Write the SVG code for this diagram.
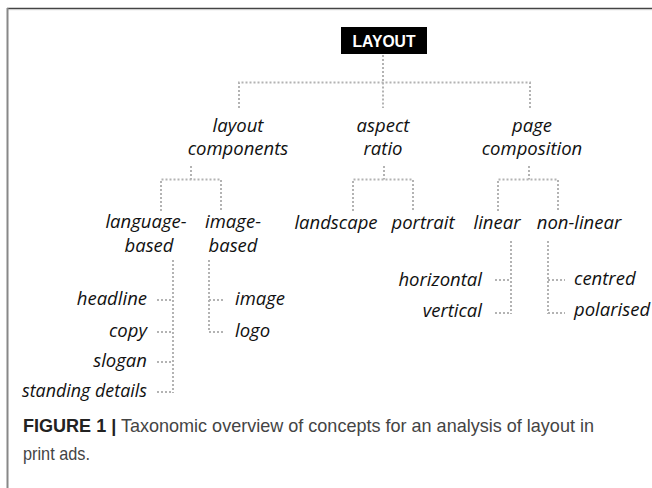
<svg xmlns="http://www.w3.org/2000/svg" width="652" height="488" viewBox="0 0 652 488">
  <style>
    .lbl { font-family: "Open Sans", "Noto Sans", "DejaVu Sans", sans-serif; font-style: italic; font-size: 18.5px; fill: #111; }
    .mid { text-anchor: middle; }
    .end { text-anchor: end; }
    .dot { fill: none; stroke: #b3b3b3; stroke-width: 2; stroke-dasharray: 2 2; }
    .cap { font-family: "Liberation Sans", Arial, sans-serif; font-size: 19px; fill: #444; }
  </style>
  <rect width="652" height="488" fill="#fff"/>

  <!-- frame -->
  <line x1="7" y1="8.5" x2="652" y2="8.5" stroke="#444" stroke-width="1.5"/>
  <line x1="7" y1="9.7" x2="652" y2="9.7" stroke="#ccc" stroke-width="1"/>
  <line x1="7.5" y1="8" x2="7.5" y2="488" stroke="#888" stroke-width="2"/>

  <!-- connectors -->
  <g id="connectors" class="dot">
    <path d="M383 55 V82.5 M239 108 V82.5 H530 V108 M383 82.5 V108"/>
    <path d="M191 166 V179.5 M161 211 V179.5 H221 V211"/>
    <path d="M384 166 V179.5 M353 211 V179.5 H413 V211"/>
    <path d="M529 166 V179.5 M498 211 V179.5 H558 V211"/>
    <path d="M173 260 V393 M157 300 H173 M157 332 H173 M157 362 H173 M157 392 H173"/>
    <path d="M209 260 V332 M209 300 H224 M209 332 H224"/>
    <path d="M511 241 V314 M495 280 H511 M495 313 H511"/>
    <path d="M548 241 V314 M548 280 H565 M548 313 H565"/>
  </g>

  <g id="layout">
    <rect x="341" y="27" width="86" height="27" fill="#000"/>
    <text x="384" y="47" text-anchor="middle" font-family="Liberation Sans, Arial, sans-serif" font-weight="bold" font-size="16.5" fill="#fff" textLength="63" lengthAdjust="spacingAndGlyphs">LAYOUT</text>
  </g>

  <g id="layout-components">
    <text class="lbl mid" x="238" y="132">layout</text>
    <text class="lbl mid" x="238" y="155">components</text>
  </g>
  <g id="aspect-ratio">
    <text class="lbl mid" x="383" y="132">aspect</text>
    <text class="lbl mid" x="383" y="155">ratio</text>
  </g>
  <g id="page-composition">
    <text class="lbl mid" x="532" y="132">page</text>
    <text class="lbl mid" x="532" y="155">composition</text>
  </g>

  <g id="language-based">
    <text class="lbl mid" x="146" y="228">language-</text>
    <text class="lbl mid" x="149" y="252">based</text>
  </g>
  <g id="image-based">
    <text class="lbl mid" x="233" y="228">image-</text>
    <text class="lbl mid" x="233" y="252">based</text>
  </g>
  <g id="landscape"><text class="lbl mid" x="336" y="229">landscape</text></g>
  <g id="portrait"><text class="lbl mid" x="423" y="229">portrait</text></g>
  <g id="linear"><text class="lbl mid" x="497" y="229">linear</text></g>
  <g id="non-linear"><text class="lbl mid" x="579" y="229">non-linear</text></g>

  <g id="headline"><text class="lbl end" x="147" y="305">headline</text></g>
  <g id="copy"><text class="lbl end" x="147" y="337">copy</text></g>
  <g id="slogan"><text class="lbl end" x="147" y="367">slogan</text></g>
  <g id="standing-details"><text class="lbl end" x="147" y="397" textLength="125" lengthAdjust="spacingAndGlyphs">standing details</text></g>

  <g id="image"><text class="lbl" x="235" y="305">image</text></g>
  <g id="logo"><text class="lbl" x="235" y="337">logo</text></g>

  <g id="horizontal"><text class="lbl end" x="482" y="286">horizontal</text></g>
  <g id="vertical"><text class="lbl end" x="482" y="317">vertical</text></g>
  <g id="centred"><text class="lbl" x="574" y="285">centred</text></g>
  <g id="polarised"><text class="lbl" x="574" y="316">polarised</text></g>

  <!-- caption -->
  <text class="cap" x="23" y="432" textLength="571" lengthAdjust="spacingAndGlyphs"><tspan font-weight="bold" fill="#222">FIGURE 1 |</tspan> Taxonomic overview of concepts for an analysis of layout in</text>
  <text class="cap" x="23" y="460" textLength="67" lengthAdjust="spacingAndGlyphs">print ads.</text>
</svg>
